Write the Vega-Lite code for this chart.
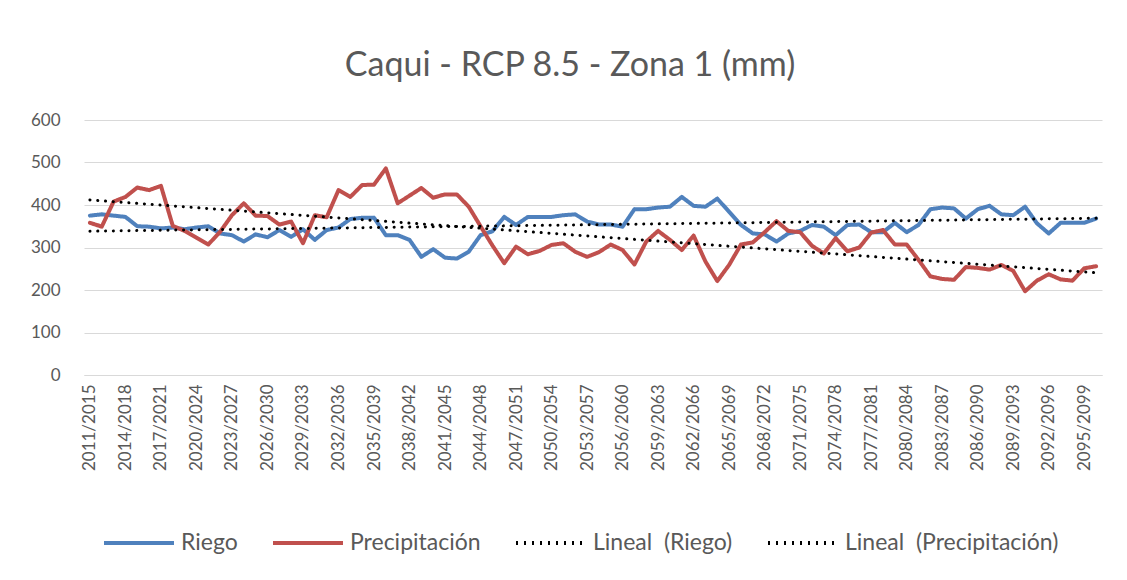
{
  "$schema": "https://vega.github.io/schema/vega-lite/v6.json",
  "width": 1018,
  "height": 255,
  "autosize": {"type": "pad"},
  "padding": {"left": 24, "top": 49, "right": 20, "bottom": 5},
  "background": "white",
  "config": {"view": {"stroke": null}, "font": "Lato"},
  "title": {"text": "Caqui - RCP 8.5 - Zona 1 (mm)", "fontSize": 34, "font": "Lato", "fontWeight": "normal", "color": "#595959", "anchor": "middle", "frame": "bounds", "offset": 28, "dx": 7},
  "data": {"values": [
    {"year": 2011, "Riego": 375, "Precipitación": 358},
    {"year": 2012, "Riego": 378, "Precipitación": 349},
    {"year": 2013, "Riego": 375, "Precipitación": 408},
    {"year": 2014, "Riego": 372, "Precipitación": 419},
    {"year": 2015, "Riego": 350, "Precipitación": 441},
    {"year": 2016, "Riego": 349, "Precipitación": 435},
    {"year": 2017, "Riego": 345, "Precipitación": 445},
    {"year": 2018, "Riego": 347, "Precipitación": 351},
    {"year": 2019, "Riego": 343, "Precipitación": 339},
    {"year": 2020, "Riego": 347, "Precipitación": 323},
    {"year": 2021, "Riego": 350, "Precipitación": 307},
    {"year": 2022, "Riego": 333, "Precipitación": 337},
    {"year": 2023, "Riego": 329, "Precipitación": 376},
    {"year": 2024, "Riego": 314, "Precipitación": 404},
    {"year": 2025, "Riego": 331, "Precipitación": 375},
    {"year": 2026, "Riego": 324, "Precipitación": 374},
    {"year": 2027, "Riego": 341, "Precipitación": 354},
    {"year": 2028, "Riego": 325, "Precipitación": 361},
    {"year": 2029, "Riego": 343, "Precipitación": 310},
    {"year": 2030, "Riego": 318, "Precipitación": 376},
    {"year": 2031, "Riego": 341, "Precipitación": 371},
    {"year": 2032, "Riego": 347, "Precipitación": 435},
    {"year": 2033, "Riego": 367, "Precipitación": 419},
    {"year": 2034, "Riego": 370, "Precipitación": 447},
    {"year": 2035, "Riego": 370, "Precipitación": 448},
    {"year": 2036, "Riego": 329, "Precipitación": 486},
    {"year": 2037, "Riego": 329, "Precipitación": 404},
    {"year": 2038, "Riego": 318, "Precipitación": 422},
    {"year": 2039, "Riego": 278, "Precipitación": 440},
    {"year": 2040, "Riego": 296, "Precipitación": 417},
    {"year": 2041, "Riego": 276, "Precipitación": 425},
    {"year": 2042, "Riego": 274, "Precipitación": 425},
    {"year": 2043, "Riego": 290, "Precipitación": 396},
    {"year": 2044, "Riego": 329, "Precipitación": 350},
    {"year": 2045, "Riego": 338, "Precipitación": 305},
    {"year": 2046, "Riego": 372, "Precipitación": 263},
    {"year": 2047, "Riego": 353, "Precipitación": 302},
    {"year": 2048, "Riego": 372, "Precipitación": 284},
    {"year": 2049, "Riego": 372, "Precipitación": 292},
    {"year": 2050, "Riego": 372, "Precipitación": 306},
    {"year": 2051, "Riego": 376, "Precipitación": 310},
    {"year": 2052, "Riego": 378, "Precipitación": 290},
    {"year": 2053, "Riego": 361, "Precipitación": 278},
    {"year": 2054, "Riego": 354, "Precipitación": 289},
    {"year": 2055, "Riego": 354, "Precipitación": 307},
    {"year": 2056, "Riego": 349, "Precipitación": 294},
    {"year": 2057, "Riego": 390, "Precipitación": 260},
    {"year": 2058, "Riego": 390, "Precipitación": 314},
    {"year": 2059, "Riego": 394, "Precipitación": 339},
    {"year": 2060, "Riego": 396, "Precipitación": 318},
    {"year": 2061, "Riego": 419, "Precipitación": 294},
    {"year": 2062, "Riego": 398, "Precipitación": 328},
    {"year": 2063, "Riego": 396, "Precipitación": 267},
    {"year": 2064, "Riego": 415, "Precipitación": 221},
    {"year": 2065, "Riego": 384, "Precipitación": 259},
    {"year": 2066, "Riego": 353, "Precipitación": 307},
    {"year": 2067, "Riego": 333, "Precipitación": 312},
    {"year": 2068, "Riego": 331, "Precipitación": 336},
    {"year": 2069, "Riego": 314, "Precipitación": 362},
    {"year": 2070, "Riego": 333, "Precipitación": 339},
    {"year": 2071, "Riego": 339, "Precipitación": 336},
    {"year": 2072, "Riego": 353, "Precipitación": 304},
    {"year": 2073, "Riego": 349, "Precipitación": 286},
    {"year": 2074, "Riego": 329, "Precipitación": 322},
    {"year": 2075, "Riego": 353, "Precipitación": 291},
    {"year": 2076, "Riego": 354, "Precipitación": 300},
    {"year": 2077, "Riego": 336, "Precipitación": 335},
    {"year": 2078, "Riego": 336, "Precipitación": 341},
    {"year": 2079, "Riego": 358, "Precipitación": 307},
    {"year": 2080, "Riego": 336, "Precipitación": 307},
    {"year": 2081, "Riego": 353, "Precipitación": 271},
    {"year": 2082, "Riego": 390, "Precipitación": 232},
    {"year": 2083, "Riego": 394, "Precipitación": 226},
    {"year": 2084, "Riego": 392, "Precipitación": 224},
    {"year": 2085, "Riego": 368, "Precipitación": 254},
    {"year": 2086, "Riego": 390, "Precipitación": 252},
    {"year": 2087, "Riego": 398, "Precipitación": 248},
    {"year": 2088, "Riego": 378, "Precipitación": 259},
    {"year": 2089, "Riego": 376, "Precipitación": 245},
    {"year": 2090, "Riego": 396, "Precipitación": 197},
    {"year": 2091, "Riego": 357, "Precipitación": 222},
    {"year": 2092, "Riego": 333, "Precipitación": 237},
    {"year": 2093, "Riego": 358, "Precipitación": 225},
    {"year": 2094, "Riego": 358, "Precipitación": 222},
    {"year": 2095, "Riego": 358, "Precipitación": 251},
    {"year": 2096, "Riego": 368, "Precipitación": 256}
  ]},
  "transform": [{"fold": ["Riego", "Precipitación"], "as": ["serie", "valor"]}],
  "encoding": {
    "x": {"field": "year", "type": "quantitative",
      "scale": {"domain": [2010.5, 2096.5], "nice": false, "zero": false},
      "axis": {"title": null, "values": [2011, 2014, 2017, 2020, 2023, 2026, 2029, 2032, 2035, 2038, 2041, 2044, 2047, 2050, 2053, 2056, 2059, 2062, 2065, 2068, 2071, 2074, 2077, 2080, 2083, 2086, 2089, 2092, 2095],
        "labelExpr": "datum.value + '/' + (datum.value + 4)", "labelAngle": -90, "labelAlign": "right", "labelBaseline": "middle",
        "grid": false, "ticks": false, "domainColor": "#d9d9d9", "domainWidth": 1,
        "labelFontSize": 17, "labelFont": "Lato", "labelColor": "#595959", "labelPadding": 9,
        "labelOverlap": false, "labelFlush": false, "minExtent": 90, "maxExtent": 90}},
    "y": {"field": "valor", "type": "quantitative",
      "scale": {"domain": [0, 600], "nice": false},
      "axis": {"title": null, "values": [0, 100, 200, 300, 400, 500, 600], "domain": false, "ticks": false,
        "gridColor": "#d9d9d9", "gridWidth": 1, "labelFontSize": 17, "labelFont": "Lato", "labelColor": "#595959",
        "labelPadding": 24, "minExtent": 60, "maxExtent": 60}}
  },
  "layer": [
    {
      "mark": {"type": "line", "strokeWidth": 4, "strokeJoin": "round", "strokeCap": "round"},
      "encoding": {
        "color": {"field": "serie", "type": "nominal",
          "scale": {"domain": ["Riego", "Precipitación", "Lineal\u00a0\u00a0(Riego)", "Lineal\u00a0\u00a0(Precipitación)"], "range": ["#4f81bd", "#c0504d", "#000000", "#000000"]},
          "legend": {"title": null, "orient": "none", "legendX": 18, "legendY": 386, "direction": "horizontal", "columns": 4,
            "symbolType": "stroke", "symbolSize": 4900, "symbolStrokeWidth": 4, "labelFontSize": 23, "labelFont": "Lato",
            "labelColor": "#595959", "columnPadding": 27, "labelOffset": 5, "labelLimit": 500}},
        "strokeDash": {"field": "serie", "type": "nominal",
          "scale": {"domain": ["Riego", "Precipitación", "Lineal\u00a0\u00a0(Riego)", "Lineal\u00a0\u00a0(Precipitación)"], "range": [[1, 0], [1, 0], [2, 6], [2, 6]]},
          "legend": {"title": null, "orient": "none", "legendX": 18, "legendY": 386, "direction": "horizontal", "columns": 4,
            "symbolType": "stroke", "symbolSize": 4900, "symbolStrokeWidth": 4, "labelFontSize": 23, "labelFont": "Lato",
            "labelColor": "#595959", "columnPadding": 27, "labelOffset": 5, "labelLimit": 500}}
      }
    },
    {
      "transform": [{"filter": {"field": "serie", "equal": "Riego"}}, {"regression": "valor", "on": "year"}],
      "mark": {"type": "line", "strokeWidth": 3, "strokeCap": "round", "strokeDash": [0.1, 7.7]},
      "encoding": {"color": {"datum": "Lineal\u00a0\u00a0(Riego)"}}
    },
    {
      "transform": [{"filter": {"field": "serie", "equal": "Precipitación"}}, {"regression": "valor", "on": "year"}],
      "mark": {"type": "line", "strokeWidth": 3, "strokeCap": "round", "strokeDash": [0.1, 7.7]},
      "encoding": {"color": {"datum": "Lineal\u00a0\u00a0(Precipitación)"}}
    }
  ]
}
